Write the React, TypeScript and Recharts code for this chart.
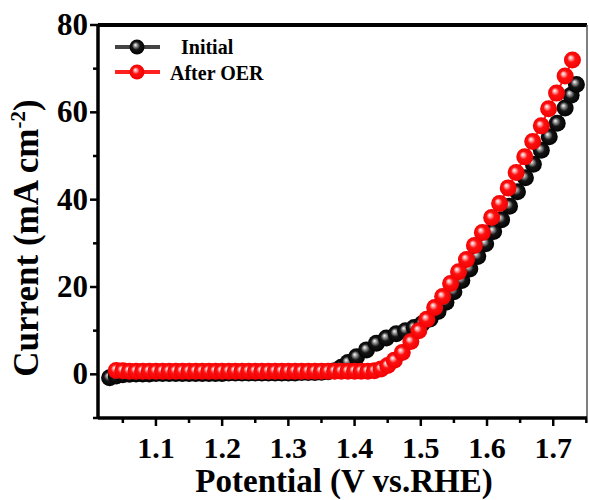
import { LineChart, Line, XAxis, YAxis, ReferenceLine } from "recharts";

// Initial (black) LSV curve
const initialV = [
  1.03, 1.04, 1.05, 1.06, 1.07, 1.08, 1.09, 1.1, 1.11, 1.12, 1.13, 1.14, 1.15, 1.16, 1.17, 1.18, 1.19, 1.2,
  1.21, 1.22, 1.23, 1.24, 1.25, 1.26, 1.27, 1.28, 1.29, 1.3, 1.31, 1.32, 1.33, 1.34, 1.35, 1.36, 1.37,
  1.38, 1.39, 1.403, 1.418, 1.433, 1.448, 1.463, 1.477, 1.49, 1.502, 1.514, 1.526, 1.538, 1.55, 1.562,
  1.574, 1.586, 1.598, 1.61, 1.622, 1.634, 1.646, 1.658, 1.67, 1.682, 1.694, 1.706, 1.718, 1.727, 1.735,
];
const initialJ = [
  -0.8, -0.4, -0.1, 0.0, 0.1, 0.1, 0.1, 0.2, 0.2, 0.2, 0.2, 0.2, 0.2, 0.2, 0.2, 0.2, 0.2, 0.2,
  0.3, 0.3, 0.3, 0.3, 0.3, 0.3, 0.3, 0.3, 0.3, 0.3, 0.3, 0.4, 0.4, 0.4, 0.5, 0.6, 0.8,
  1.6, 2.7, 4.0, 5.6, 7.1, 8.3, 9.3, 10.0, 10.7, 11.6, 12.7, 14.4, 16.5, 18.9, 21.5,
  24.1, 27.0, 29.9, 32.7, 35.4, 38.5, 41.8, 45.0, 48.1, 51.3, 54.4, 57.5, 61.0, 63.9, 66.4,
];

// After OER (red) LSV curve
const afterV = [
  1.04, 1.05, 1.06, 1.07, 1.08, 1.09, 1.1, 1.11, 1.12, 1.13, 1.14, 1.15, 1.16, 1.17, 1.18, 1.19, 1.2,
  1.21, 1.22, 1.23, 1.24, 1.25, 1.26, 1.27, 1.28, 1.29, 1.3, 1.31, 1.32, 1.33, 1.34, 1.35, 1.36, 1.37,
  1.38, 1.39, 1.4, 1.41, 1.42, 1.43, 1.44, 1.45, 1.46, 1.472, 1.485, 1.497, 1.509, 1.521, 1.533, 1.545,
  1.557, 1.569, 1.581, 1.593, 1.607, 1.619, 1.632, 1.644, 1.657, 1.669, 1.682, 1.693, 1.705, 1.718, 1.729,
];
const afterJ = [
  0.9, 0.8, 0.7, 0.7, 0.7, 0.7, 0.7, 0.7, 0.7, 0.7, 0.7, 0.7, 0.7, 0.7, 0.7, 0.7, 0.7,
  0.7, 0.7, 0.7, 0.7, 0.7, 0.7, 0.7, 0.7, 0.7, 0.7, 0.7, 0.7, 0.7, 0.7, 0.7, 0.7, 0.7,
  0.7, 0.7, 0.7, 0.7, 0.7, 0.8, 1.2, 2.0, 3.2, 5.0, 7.5, 10.0, 12.6, 15.3, 17.8, 20.8,
  23.5, 26.3, 29.5, 32.5, 35.9, 39.1, 42.7, 46.2, 49.8, 53.3, 56.9, 60.8, 64.4, 68.3, 72.0,
];

const xTicks = [1.05, 1.1, 1.15, 1.2, 1.25, 1.3, 1.35, 1.4, 1.45, 1.5, 1.55, 1.6, 1.65, 1.7, 1.75];
const yTicks = [-10, 0, 10, 20, 30, 40, 50, 60, 70, 80];

const initialData = initialV.map((v, i) => ({ v, j: initialJ[i] }));
const afterData = afterV.map((v, i) => ({ v, j: afterJ[i] }));

const FONT = "'Liberation Serif', 'Times New Roman', serif";
const BALL_R = 8.5;

const XTick = (props: any) => {
  const { x, y, payload } = props;
  const v = payload.value;
  const major = Math.abs(v * 10 - Math.round(v * 10)) < 1e-6;
  return (
    <g>
      <line x1={x} x2={x} y1={y} y2={y + (major ? 8 : 5)} stroke="#000" strokeWidth={2.5} />
      {major && (
        <text x={x} y={y + 40} textAnchor="middle" fontFamily={FONT} fontWeight="bold" fontSize={30} fill="#000">
          {v.toFixed(1)}
        </text>
      )}
    </g>
  );
};

const YTick = (props: any) => {
  const { x, y, payload } = props;
  const v = payload.value;
  const major = v >= 0 && v % 20 === 0;
  return (
    <g>
      <line x1={x} x2={x - (major ? 8 : 5)} y1={y} y2={y} stroke="#000" strokeWidth={2.5} />
      {major && (
        <text x={x - 10} y={y + 10} textAnchor="end" fontFamily={FONT} fontWeight="bold" fontSize={31} fill="#000">
          {v}
        </text>
      )}
    </g>
  );
};

const ball = (fill: string) => (props: any) => {
  const { cx, cy, index } = props;
  return <circle key={`b-${index}`} cx={cx} cy={cy} r={BALL_R} fill={fill} />;
};

function Gradients({ prefix }: { prefix: string }) {
  return (
    <defs>
      <radialGradient id={`${prefix}red`} cx="50%" cy="50%" r="55%" fx="38%" fy="35%">
        <stop offset="0%" stopColor="#ffffff" />
        <stop offset="20%" stopColor="#ff9a9a" />
        <stop offset="42%" stopColor="#ff1010" />
        <stop offset="100%" stopColor="#ee0000" />
      </radialGradient>
      <radialGradient id={`${prefix}black`} cx="50%" cy="50%" r="55%" fx="38%" fy="35%">
        <stop offset="0%" stopColor="#ffffff" />
        <stop offset="20%" stopColor="#9a9a9a" />
        <stop offset="48%" stopColor="#151515" />
        <stop offset="100%" stopColor="#000000" />
      </radialGradient>
    </defs>
  );
}

function Overlay() {
  return (
    <svg width={589} height={500} style={{ position: "absolute", left: 0, top: 0, pointerEvents: "none" }}>
      <Gradients prefix="lg-" />
      <line x1={115} x2={160} y1={47} y2={47} stroke="#444" strokeWidth={4} />
      <circle cx={137} cy={47} r={7.5} fill="url(#lg-black)" />
      <text x={181} y={54} fontFamily={FONT} fontWeight="bold" fontSize={20}>Initial</text>
      <line x1={115} x2={160} y1={72} y2={72} stroke="#ff2020" strokeWidth={4} />
      <circle cx={137} cy={72} r={7.5} fill="url(#lg-red)" />
      <text x={170} y={80} fontFamily={FONT} fontWeight="bold" fontSize={20}>After OER</text>

      <text x={344} y={492} textAnchor="middle" fontFamily={FONT} fontWeight="bold" fontSize={33}>
        Potential (V vs.RHE)
      </text>
      <text transform="translate(38, 238) rotate(-90)" textAnchor="middle" fontFamily={FONT} fontWeight="bold" fontSize={35}>
        Current (mA cm<tspan dy={-13} fontSize={21}>-2</tspan>
        <tspan dy={13}>)</tspan>
      </text>
    </svg>
  );
}

export default function App() {
  return (
    <div style={{ position: "absolute", left: 0, top: 0, width: 589, height: 500, background: "#fff" }}>
      <LineChart width={589} height={500} margin={{ top: 25, right: 2, bottom: 32, left: 38 }}>
        <Gradients prefix="pt-" />
        <XAxis
          type="number"
          dataKey="v"
          domain={[1.0125, 1.751]}
          ticks={xTicks}
          allowDataOverflow
          height={50}
          tickSize={0}
          tickMargin={0}
          tickLine={false}
          axisLine={{ stroke: "#000", strokeWidth: 3.5 }}
          tick={<XTick />}
          interval={0}
        />
        <YAxis
          type="number"
          domain={[-10, 80]}
          ticks={yTicks}
          allowDataOverflow
          width={60}
          tickSize={0}
          tickMargin={0}
          tickLine={false}
          axisLine={{ stroke: "#000", strokeWidth: 3.5 }}
          tick={<YTick />}
          interval={0}
        />
        <ReferenceLine y={80} stroke="#000" strokeWidth={4} />
        <ReferenceLine x={1.751} stroke="#555" strokeWidth={1.5} />
        <Line
          data={initialData}
          dataKey="j"
          type="linear"
          stroke="#333"
          strokeWidth={2}
          dot={ball("url(#pt-black)")}
          activeDot={false}
          isAnimationActive={false}
        />
        <Line
          data={afterData}
          dataKey="j"
          type="linear"
          stroke="#ff1a1a"
          strokeWidth={2}
          dot={ball("url(#pt-red)")}
          activeDot={false}
          isAnimationActive={false}
        />
      </LineChart>
      <Overlay />
    </div>
  );
}
